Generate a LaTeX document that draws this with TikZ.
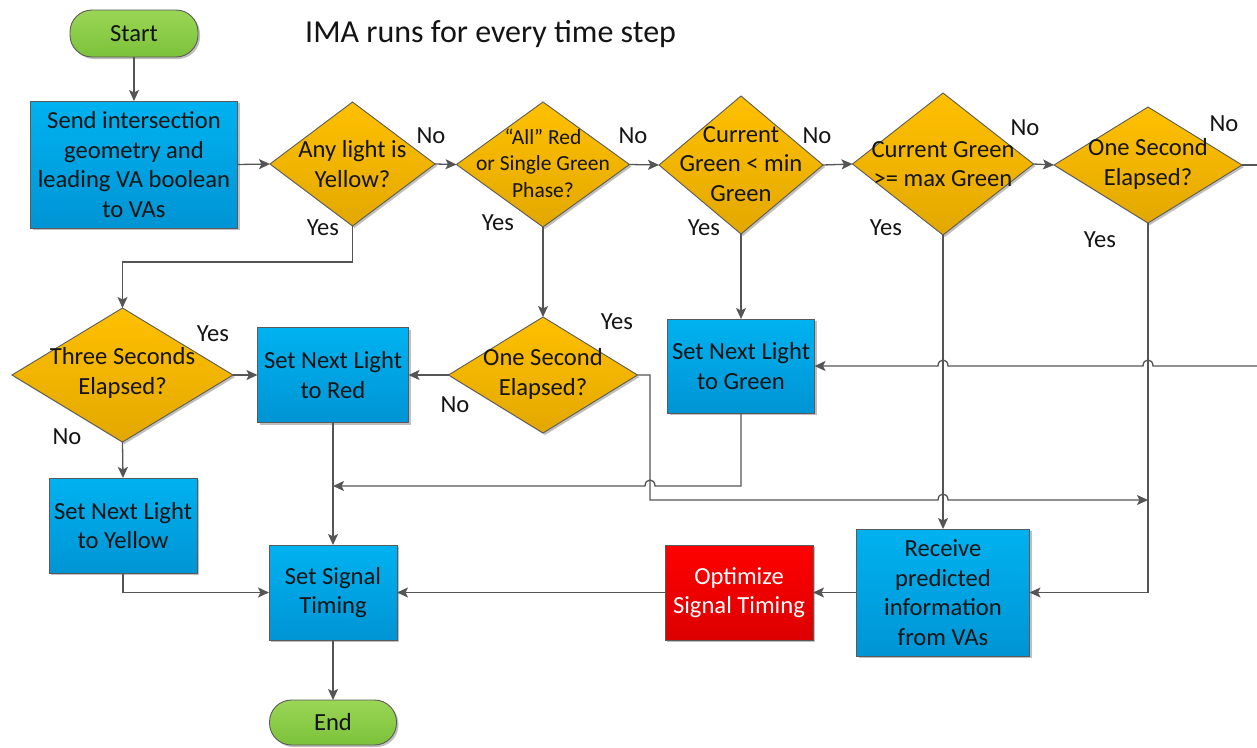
\documentclass[tikz,border=0pt]{standalone}
\usepackage{fontspec}
\setmainfont{Carlito}
\usetikzlibrary{shapes.geometric,arrows.meta,shadows}
\definecolor{bluetop}{HTML}{00B2F0}
\definecolor{bluebot}{HTML}{0094D4}
\definecolor{ortop}{HTML}{FFC000}
\definecolor{orbot}{HTML}{E3A800}
\definecolor{grtop}{HTML}{9AD656}
\definecolor{grbot}{HTML}{7CC23A}
\definecolor{rdtop}{HTML}{FF0000}
\definecolor{rdbot}{HTML}{DC0000}
\definecolor{edge}{HTML}{5A5A5A}
\definecolor{linec}{HTML}{555555}
\definecolor{txt}{HTML}{141414}
\tikzset{
  shad/.style={drop shadow={shadow xshift=2pt,shadow yshift=-2pt,opacity=0.25,fill=black}},
  boxnode/.style={rectangle,draw=edge,line width=0.9pt,top color=bluetop,bottom color=bluebot,
     shad,inner sep=2pt,outer sep=0pt,align=center,text=txt,
     font=\fontsize{24.6}{29.5}\selectfont},
  rednode/.style={boxnode,top color=rdtop,bottom color=rdbot,text=white},
  termnode/.style={rectangle,rounded corners=22pt,draw=edge,line width=0.9pt,top color=grtop,bottom color=grbot,
     shad,inner sep=0pt,outer sep=0pt,text=txt,font=\fontsize{24.6}{29.5}\selectfont},
  dianode/.style={diamond,draw=edge,line width=0.9pt,top color=ortop,bottom color=orbot,
     shad,inner sep=0pt,outer sep=0pt},
  dtxt/.style={align=center,text=txt,inner sep=0pt,font=\fontsize{24.6}{29.5}\selectfont},
  dtxtsm/.style={dtxt,font=\fontsize{21.5}{26.5}\selectfont},
  lab/.style={text=txt,inner sep=0pt,font=\fontsize{24.6}{29}\selectfont},
  conn/.style={draw=linec,line width=1.3pt,-{Stealth[length=11pt,width=10pt,inset=2.5pt]}},
  plain/.style={draw=linec,line width=1.3pt}
}
\begin{document}
\begin{tikzpicture}[x=1pt,y=-1pt]
\useasboundingbox (0,0) rectangle (1257,747);
% terminals
\node[termnode,minimum width=128pt,minimum height=47pt] (start) at (134,33.5) {Start};
\node[termnode,minimum width=127pt,minimum height=45pt] (end) at (333,722.5) {End};
\node[text=txt,inner sep=0pt,anchor=west,font=\fontsize{32}{36}\selectfont] (title) at (305,34) {IMA runs for every time step};
% boxes
\node[boxnode,minimum width=207pt,minimum height=127pt] (send) at (134,164.5) {Send intersection\\geometry and\\leading VA boolean\\to VAs};
\node[boxnode,minimum width=151pt,minimum height=95pt] (sr) at (333,375) {Set Next Light\\to Red};
\node[boxnode,minimum width=147pt,minimum height=94pt] (sg) at (741,366) {Set Next Light\\to Green};
\node[boxnode,minimum width=148pt,minimum height=95pt] (sy) at (123,525.5) {Set Next Light\\to Yellow};
\node[boxnode,minimum width=128pt,minimum height=95pt] (ss) at (333,592.5) {Set Signal\\Timing};
\node[rednode,minimum width=148pt,minimum height=95pt] (opt) at (739,592.5) {Optimize\\Signal Timing};
\node[boxnode,minimum width=173pt,minimum height=127pt] (rcv) at (943,592.5) {Receive\\predicted\\information\\from VAs};
% diamonds
\node[dianode,minimum width=165pt,minimum height=124pt] (d1) at (352.5,164) {};
\node[dtxt] (d1t) at (352.5,164) {Any light is\\Yellow?};
\node[dianode,minimum width=173pt,minimum height=125pt] (d2) at (543,164.5) {};
\node[dtxtsm] (d2t) at (543,163) {“All” Red\\or Single Green\\Phase?};
\node[dianode,minimum width=164pt,minimum height=138pt] (d3) at (741,165) {};
\node[dtxt] (d3t) at (741,164) {Current\\Green < min\\Green};
\node[dianode,minimum width=181pt,minimum height=142pt] (d4) at (943,164) {};
\node[dtxt] (d4t) at (943,164) {Current Green\\>= max Green};
\node[dianode,minimum width=188pt,minimum height=116pt] (d5) at (1148,165) {};
\node[dtxt] (d5t) at (1148,164) {One Second\\Elapsed?};
\node[dianode,minimum width=221pt,minimum height=134pt] (three) at (122.5,375) {};
\node[dtxt] (threet) at (122.5,373) {Three Seconds\\Elapsed?};
\node[dianode,minimum width=189pt,minimum height=116pt] (mid) at (543,375) {};
\node[dtxt] (midt) at (543,374) {One Second\\Elapsed?};
% edge coordinates
\coordinate (edgeA) at (1257,165);
\coordinate (edgeB) at (1257,366);
% connectors
\draw[conn] (start.south) -- (send.north);
\draw[conn] (send.east) -- (d1.west);
\draw[conn] (d1.east) -- (d2.west);
\draw[conn] (d2.east) -- (d3.west);
\draw[conn] (d3.east) -- (d4.west);
\draw[conn] (d4.east) -- (d5.west);
\draw[plain] (d5.east) -- (edgeA);
\draw[conn] (edgeB) -- (1153,366) .. controls (1153,358) and (1143,358) .. (1143,366)
   -- (948,366) .. controls (948,358) and (938,358) .. (938,366) -- (sg.east);
\draw[conn] (d1.south) -- (d1.south |- 0,262) -| (three.north);
\draw[conn] (d2.south) -- (mid.north);
\draw[conn] (d3.south) -- (sg.north);
\draw[conn] (d4.south) -- (rcv.north);
\draw[conn] (d5.south) |- (rcv.east);
\draw[conn] (three.east) -- (sr.west);
\draw[conn] (three.south) -- (sy.north);
\draw[conn] (mid.west) -- (sr.east);
\draw[conn] (mid.east) -- (650,375) -- (650,500) -- (938,500) .. controls (938,492) and (948,492) .. (948,500)
   -- (d5.south |- 0,500);
\draw[conn] (sg.south) -- (sg.south |- 0,486) -- (655,486) .. controls (655,478) and (645,478) .. (645,486)
   -- (sr.south |- 0,486);
\draw[conn] (sr.south) -- (ss.north);
\draw[conn] (sy.south) |- (ss.west);
\draw[conn] (opt.west) -- (ss.east);
\draw[conn] (rcv.west) -- (opt.east);
\draw[conn] (ss.south) -- (end.north);
% labels
\node[lab] (l1) at (431,136) {No};
\node[lab] (l2) at (633,136) {No};
\node[lab] (l3) at (817,136) {No};
\node[lab] (l4) at (1025,128) {No};
\node[lab] (l5) at (1224,124) {No};
\node[lab] (y1) at (323,228) {Yes};
\node[lab] (y2) at (498,223) {Yes};
\node[lab] (y3) at (704,228) {Yes};
\node[lab] (y4) at (886,228) {Yes};
\node[lab] (y5) at (1100,240) {Yes};
\node[lab] (y6) at (213,334) {Yes};
\node[lab] (n6) at (67,437) {No};
\node[lab] (y7) at (617,322) {Yes};
\node[lab] (n7) at (455,405) {No};
\end{tikzpicture}
\end{document}
